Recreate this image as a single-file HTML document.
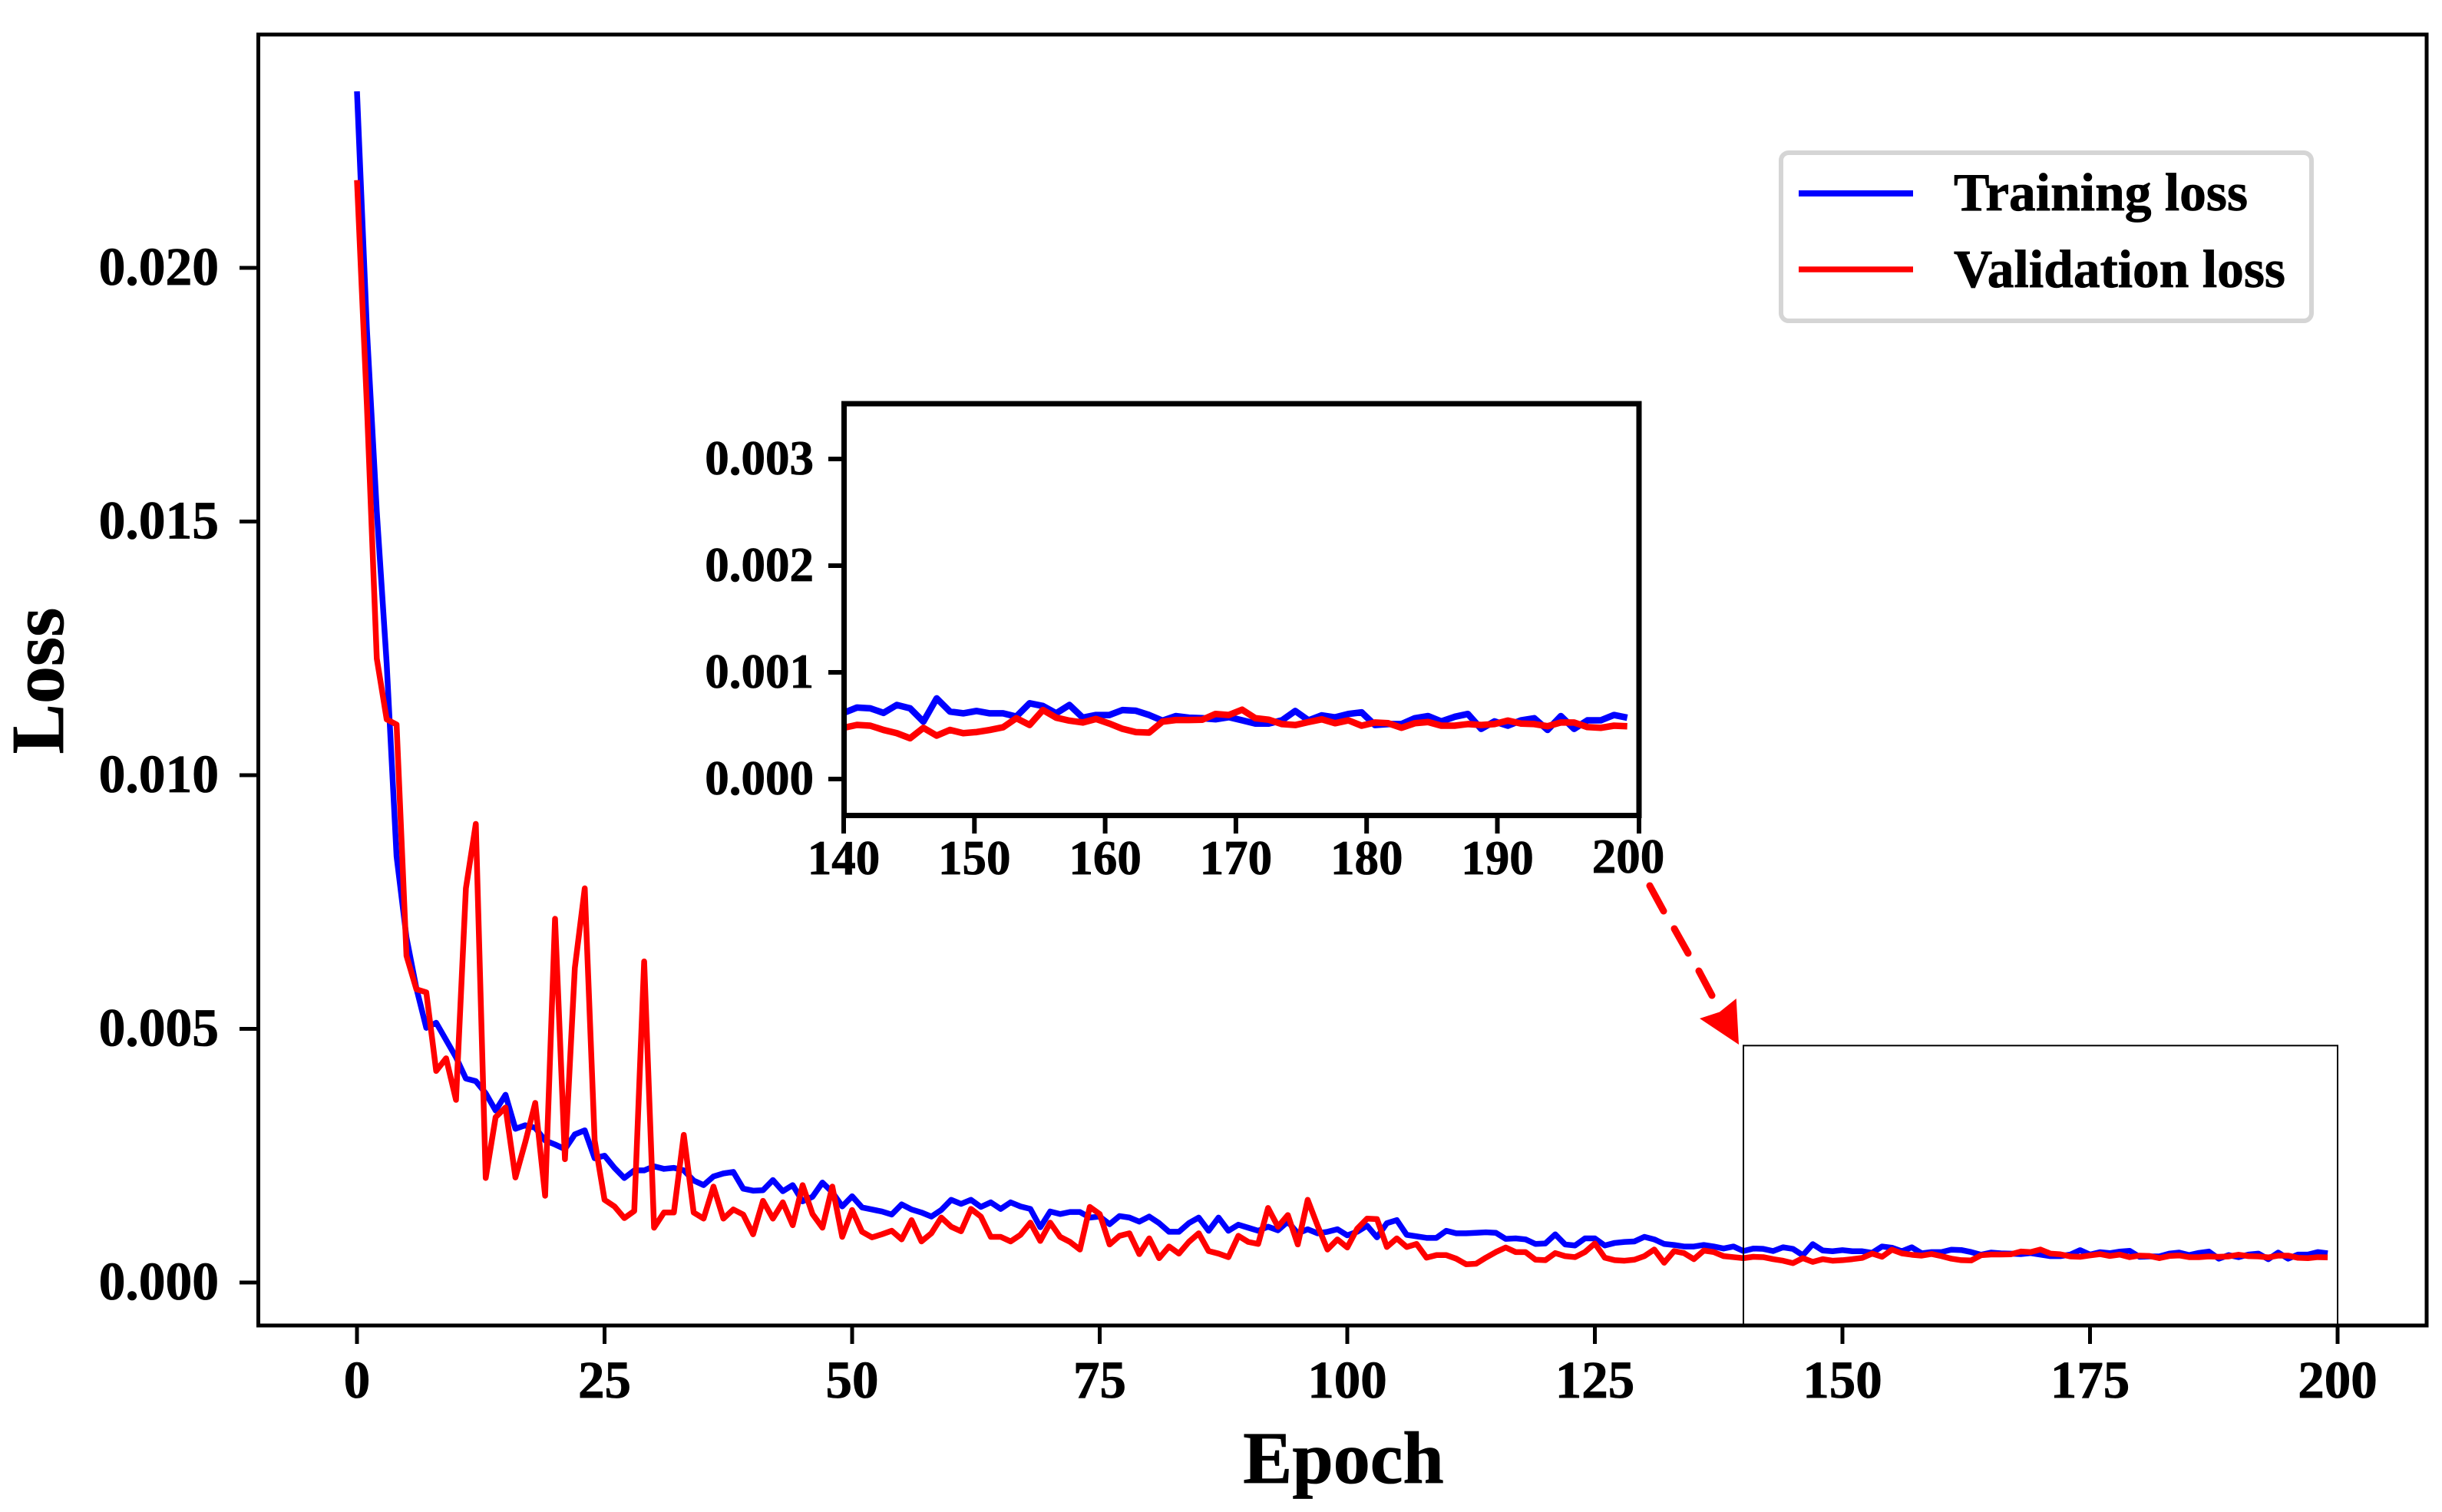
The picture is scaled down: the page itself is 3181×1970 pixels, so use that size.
<!DOCTYPE html>
<html lang="en">
<head>
<meta charset="utf-8">
<title>Training and validation loss</title>
<style>
html,body{margin:0;padding:0;background:#fff;width:3181px;height:1970px;overflow:hidden}
svg{display:block}
text{font-family:"Liberation Serif",serif;font-weight:bold;fill:#000;stroke:#000;stroke-width:0.8px}
</style>
</head>
<body>
<svg id="chart" xmlns="http://www.w3.org/2000/svg" width="3181" height="1970" viewBox="0 0 3181 1970">
  <rect width="3181" height="1970" fill="#fff"/>
  <g id="main-marks"></g>
  <rect x="336.5" y="45" width="2824.5" height="1682" fill="none" stroke="#000" stroke-width="5"/>
  <g id="main-axes"></g>
  <text transform="translate(82,887) rotate(-90)" text-anchor="middle" font-size="98">Loss</text>
  <text x="1750" y="1932" text-anchor="middle" font-size="96">Epoch</text>

  <g>
    <rect x="2320" y="199" width="691" height="219" rx="10" ry="10" fill="#fff" stroke="#d5d5d5" stroke-width="6"/>
    <line x1="2343" y1="252" x2="2492" y2="252" stroke="#0000ff" stroke-width="8"/>
    <text x="2545" y="274" font-size="69.5">Training loss</text>
    <line x1="2343" y1="351" x2="2492" y2="351" stroke="#ff0000" stroke-width="7.5"/>
    <text x="2545" y="374" font-size="69.5">Validation loss</text>
  </g>

  <g id="zoom-region"></g>

  <g>
    <line x1="2149" y1="1154" x2="2167" y2="1187" stroke="#ff0000" stroke-width="9" stroke-linecap="round"/>
    <line x1="2181" y1="1210" x2="2199" y2="1242" stroke="#ff0000" stroke-width="9" stroke-linecap="round"/>
    <line x1="2213" y1="1265" x2="2230" y2="1297" stroke="#ff0000" stroke-width="9" stroke-linecap="round"/>
    <polygon points="2265,1361 2261.7,1301 2240,1318.5 2214,1327" fill="#ff0000"/>
  </g>

  <rect x="1099" y="526" width="1036" height="536" fill="#fff"/>
  <g id="inset-marks"></g>
  <rect x="1099.5" y="526" width="1035.5" height="536.5" fill="none" stroke="#000" stroke-width="7"/>
  <g id="inset-axes"></g>
</svg>

<script>
// Loss values are expressed in units of 0.001, indexed by epoch 0..199
const trainLoss = [
  23.48,18.8,15.2,12.2,8.4,6.8,5.8,5.02,5.12,4.78,
  4.44,4.02,3.97,3.73,3.39,3.7,3.03,3.1,3.05,2.8,
  2.72,2.63,2.92,3.0,2.45,2.5,2.26,2.06,2.21,2.21,
  2.29,2.24,2.26,2.21,2.01,1.92,2.09,2.15,2.18,1.85,
  1.81,1.82,2.02,1.8,1.92,1.6,1.69,1.97,1.78,1.5,
  1.7,1.48,1.44,1.4,1.34,1.54,1.44,1.38,1.3,1.43,
  1.63,1.55,1.63,1.49,1.58,1.45,1.58,1.5,1.45,1.09,
  1.4,1.35,1.39,1.39,1.28,1.3,1.15,1.31,1.28,1.2,
  1.3,1.17,1.0,1.0,1.17,1.28,1.02,1.28,1.02,1.14,
  1.08,1.02,1.1,1.03,1.2,0.97,1.05,0.97,1.0,1.05,
  0.93,1.0,1.12,0.89,1.17,1.23,0.94,0.91,0.88,0.88,
  1.02,0.97,0.97,0.98,0.99,0.98,0.86,0.87,0.85,0.76,
  0.77,0.95,0.75,0.73,0.87,0.87,0.73,0.78,0.8,0.81,
  0.9,0.85,0.76,0.74,0.71,0.71,0.74,0.71,0.67,0.71,
  0.62,0.67,0.663,0.62,0.694,0.663,0.538,0.756,0.632,0.616,
  0.638,0.616,0.616,0.585,0.71,0.685,0.616,0.694,0.575,0.6,
  0.6,0.647,0.64,0.6,0.547,0.59,0.575,0.57,0.56,0.58,
  0.55,0.52,0.52,0.55,0.638,0.55,0.597,0.578,0.61,0.625,
  0.506,0.515,0.515,0.57,0.59,0.54,0.583,0.61,0.47,0.54,
  0.5,0.55,0.57,0.46,0.59,0.47,0.55,0.55,0.6,0.575
];
const valLoss = [
  21.73,17.3,12.3,11.1,11.0,6.44,5.78,5.72,4.17,4.42,
  3.6,7.77,9.04,2.06,3.26,3.45,2.07,2.77,3.54,1.71,
  7.17,2.43,6.2,7.77,2.8,1.63,1.5,1.27,1.41,6.33,
  1.08,1.38,1.38,2.91,1.38,1.26,1.89,1.26,1.44,1.34,
  0.95,1.61,1.26,1.58,1.13,1.92,1.35,1.08,1.89,0.9,
  1.43,1.0,0.89,0.95,1.02,0.85,1.23,0.81,0.97,1.28,
  1.1,1.01,1.45,1.3,0.9,0.9,0.81,0.94,1.18,0.82,
  1.18,0.9,0.8,0.65,1.49,1.35,0.75,0.92,0.97,0.56,
  0.87,0.48,0.71,0.57,0.8,0.97,0.62,0.57,0.5,0.92,
  0.8,0.76,1.47,1.1,1.33,0.75,1.63,1.12,0.65,0.85,
  0.69,1.06,1.26,1.25,0.7,0.87,0.7,0.76,0.49,0.54,
  0.54,0.47,0.36,0.37,0.49,0.6,0.69,0.6,0.6,0.45,
  0.44,0.58,0.52,0.5,0.6,0.77,0.49,0.44,0.43,0.45,
  0.52,0.65,0.39,0.62,0.58,0.46,0.63,0.6,0.52,0.5,
  0.48,0.507,0.5,0.46,0.43,0.382,0.48,0.407,0.46,0.43,
  0.44,0.46,0.485,0.57,0.507,0.647,0.575,0.547,0.53,0.563,
  0.52,0.47,0.44,0.435,0.538,0.553,0.553,0.556,0.61,0.6,
  0.65,0.57,0.556,0.515,0.506,0.534,0.56,0.523,0.55,0.5,
  0.53,0.523,0.48,0.523,0.534,0.5,0.5,0.515,0.506,0.515,
  0.548,0.52,0.515,0.495,0.53,0.53,0.487,0.48,0.5,0.495
];
const mainXTicks = [0,25,50,75,100,125,150,175,200];
const mainYTicks = [0,5,10,15,20];
const mainYTickLabels = ['0.000','0.005','0.010','0.015','0.020'];
const insetXTicks = [140,150,160,170,180,190,200];
const insetYTicks = [0,1,2,3];
const insetYTickLabels = ['0.000','0.001','0.002','0.003'];
const zoomStartEpoch = 140;
const zoomEndEpoch = 200;
const zoomTopLoss = 4.67;

const NS = 'http://www.w3.org/2000/svg';
const xMain = e => 465 + e * 12.9;
const yMain = v => 1671 - v * 66.1;
const xInset = e => 1099 + (e - 140) * 17.3;
const yInset = v => 1015 - v * 139;
// the inset's tick marks were laid out slightly tighter than its data, with the last tick on the frame
const xInsetTick = e => e >= 200 ? xInset(200) - 2 : 1099 + (e - 140) * 17.03;

function make(tag, parent, attrs, content) {
  const node = document.createElementNS(NS, tag);
  for (const k in attrs) node.setAttribute(k, attrs[k]);
  if (content !== undefined) node.textContent = content;
  parent.appendChild(node);
  return node;
}
function pathFrom(values, startEpoch, xf, yf) {
  return values.map((v, i) => (i ? 'L' : 'M') + xf(startEpoch + i).toFixed(2) + ' ' + yf(v).toFixed(2)).join('');
}
const lineStyle = {fill: 'none', 'stroke-linejoin': 'round', 'stroke-linecap': 'butt'};

const mainMarks = document.getElementById('main-marks');
const mainAxes = document.getElementById('main-axes');
const insetMarks = document.getElementById('inset-marks');
const insetAxes = document.getElementById('inset-axes');
const zoomGroup = document.getElementById('zoom-region');

const trainMain = make('path', mainMarks, Object.assign({d: pathFrom(trainLoss, 0, xMain, yMain), stroke: '#0000ff', 'stroke-width': 7.5}, lineStyle));


const valMain = make('path', mainMarks, Object.assign({d: pathFrom(valLoss, 0, xMain, yMain), stroke: '#ff0000', 'stroke-width': 7.5}, lineStyle));



const trainInset = make('path', insetMarks, Object.assign({d: pathFrom(trainLoss.slice(140), 140, xInset, yInset), stroke: '#0000ff', 'stroke-width': 8.5}, lineStyle));


const valInset = make('path', insetMarks, Object.assign({d: pathFrom(valLoss.slice(140), 140, xInset, yInset), stroke: '#ff0000', 'stroke-width': 8.5}, lineStyle));



mainXTicks.forEach(t => {
  const tick = make('line', mainAxes, {x1: xMain(t), x2: xMain(t), y1: 1727, y2: 1751, stroke: '#000', 'stroke-width': 5});
  
  
  const label = make('text', mainAxes, {x: xMain(t), y: 1821, 'text-anchor': 'middle', 'font-size': 69}, String(t));
  
  
});
mainYTicks.forEach((t, i) => {
  const tick = make('line', mainAxes, {x1: 312, x2: 336, y1: yMain(t), y2: yMain(t), stroke: '#000', 'stroke-width': 5});
  
  
  const label = make('text', mainAxes, {x: 285, y: yMain(t) + 22, 'text-anchor': 'end', 'font-size': 69.5}, mainYTickLabels[i]);
  
  
});

const zoomRect = make('rect', zoomGroup, {
  x: xMain(zoomStartEpoch), y: yMain(zoomTopLoss),
  width: xMain(zoomEndEpoch) - xMain(zoomStartEpoch),
  height: 1726 - yMain(zoomTopLoss),
  fill: 'none', stroke: '#000', 'stroke-width': 2
});



insetXTicks.forEach((t, i) => {
  const last = i === insetXTicks.length - 1;
  const tick = make('line', insetAxes, {x1: xInsetTick(t), x2: xInsetTick(t), y1: 1062, y2: 1086, stroke: '#000', 'stroke-width': 6});
  
  
  const label = make('text', insetAxes, {x: xInsetTick(t) - (last ? 14 : 0), y: last ? 1137 : 1139, 'text-anchor': 'middle', 'font-size': 63}, String(t));
  
  
});
insetYTicks.forEach((t, i) => {
  const tick = make('line', insetAxes, {x1: 1079, x2: 1099, y1: yInset(t), y2: yInset(t), stroke: '#000', 'stroke-width': 6});
  
  
  const label = make('text', insetAxes, {x: 1060, y: yInset(t) + 20, 'text-anchor': 'end', 'font-size': 63}, insetYTickLabels[i]);
  
  
});
</script>
</body>
</html>
